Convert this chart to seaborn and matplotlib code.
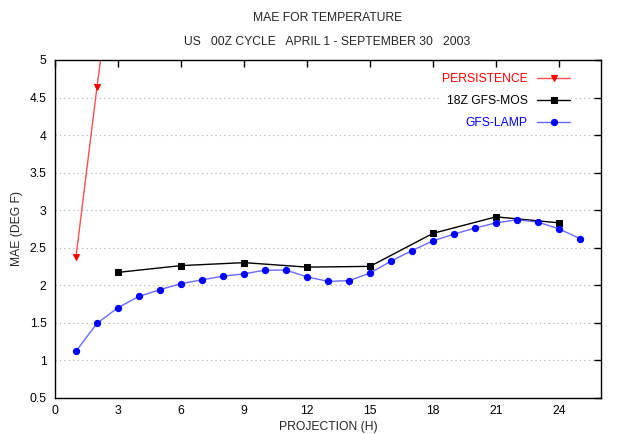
import pandas as pd
import matplotlib.pyplot as plt
import seaborn as sns

# MAE values
persist_hours = [1, 2, 3]
persist_mae = [2.38, 4.64, 6.75]

mos_hours = [3, 6, 9, 12, 15, 18, 21, 24]
mos_mae = [2.17, 2.26, 2.30, 2.24, 2.25, 2.69, 2.91, 2.83]

lamp_hours = list(range(1, 26))
lamp_mae = [1.12, 1.49, 1.70, 1.85, 1.94, 2.02, 2.07, 2.12, 2.15, 2.20,
            2.20, 2.11, 2.05, 2.06, 2.16, 2.32, 2.46, 2.59, 2.68, 2.76,
            2.83, 2.87, 2.84, 2.75, 2.62]

x_ticks = [0, 3, 6, 9, 12, 15, 18, 21, 24]
y_ticks = [0.5, 1, 1.5, 2, 2.5, 3, 3.5, 4, 4.5, 5]

sns.set_style('white')
plt.rcParams['font.family'] = ['Liberation Sans', 'DejaVu Sans']
fs = 8.7

fig = plt.figure(figsize=(6.2, 4.34), dpi=100)
ax = fig.add_axes([0.0887, 0.0836, 0.8806, 0.7782])

sns.lineplot(x=persist_hours, y=persist_mae, ax=ax, color='#ff5050', lw=1,
             marker='v', markersize=4.5, markerfacecolor='red', markeredgecolor='red',
             label='PERSISTENCE')
sns.lineplot(x=mos_hours, y=mos_mae, ax=ax, color='black', lw=1,
             marker='s', markersize=4.5, markerfacecolor='black', markeredgecolor='black',
             label='18Z GFS-MOS')
sns.lineplot(x=lamp_hours, y=lamp_mae, ax=ax, color='#6a6aff', lw=1,
             marker='o', markersize=4.5, markerfacecolor='blue', markeredgecolor='blue',
             label='GFS-LAMP')

ax.set_xlim(0, 26)
ax.set_ylim(0.5, 5)
ax.set_xticks(x_ticks)
ax.set_yticks(y_ticks)
ax.set_yticklabels(['0.5', '1', '1.5', '2', '2.5', '3', '3.5', '4', '4.5', '5'])
ax.tick_params(direction='in', length=5, width=1, top=True, right=True,
               labelsize=fs, colors='black')
ax.tick_params(axis='y', pad=6)
ax.tick_params(axis='x', pad=5)
ax.yaxis.grid(True, linestyle=(0, (1, 3)), color='#aaaaaa', lw=0.8)
for s in ax.spines.values():
    s.set_color('black')
    s.set_linewidth(1)

ax.set_xlabel('PROJECTION (H)', fontsize=fs, labelpad=3)
ax.set_ylabel('MAE (DEG F)', fontsize=fs, labelpad=5)
fig.text(0.529, 1 - 18 / 434, 'MAE FOR TEMPERATURE', ha='center', va='center', fontsize=fs)
fig.text(0.527, 1 - 42 / 434, 'US   00Z CYCLE   APRIL 1 - SEPTEMBER 30   2003',
         ha='center', va='center', fontsize=fs)

leg = ax.legend(loc='upper right', bbox_to_anchor=(0.943, 0.96), markerfirst=False,
                frameon=True, facecolor='white', edgecolor='none', framealpha=1,
                fancybox=False, fontsize=fs, handlelength=2.7, handletextpad=0.8,
                labelspacing=0.8, borderpad=0, borderaxespad=0,
                labelcolor=['red', 'black', 'blue'])

fig.savefig('out.png', dpi=100)
